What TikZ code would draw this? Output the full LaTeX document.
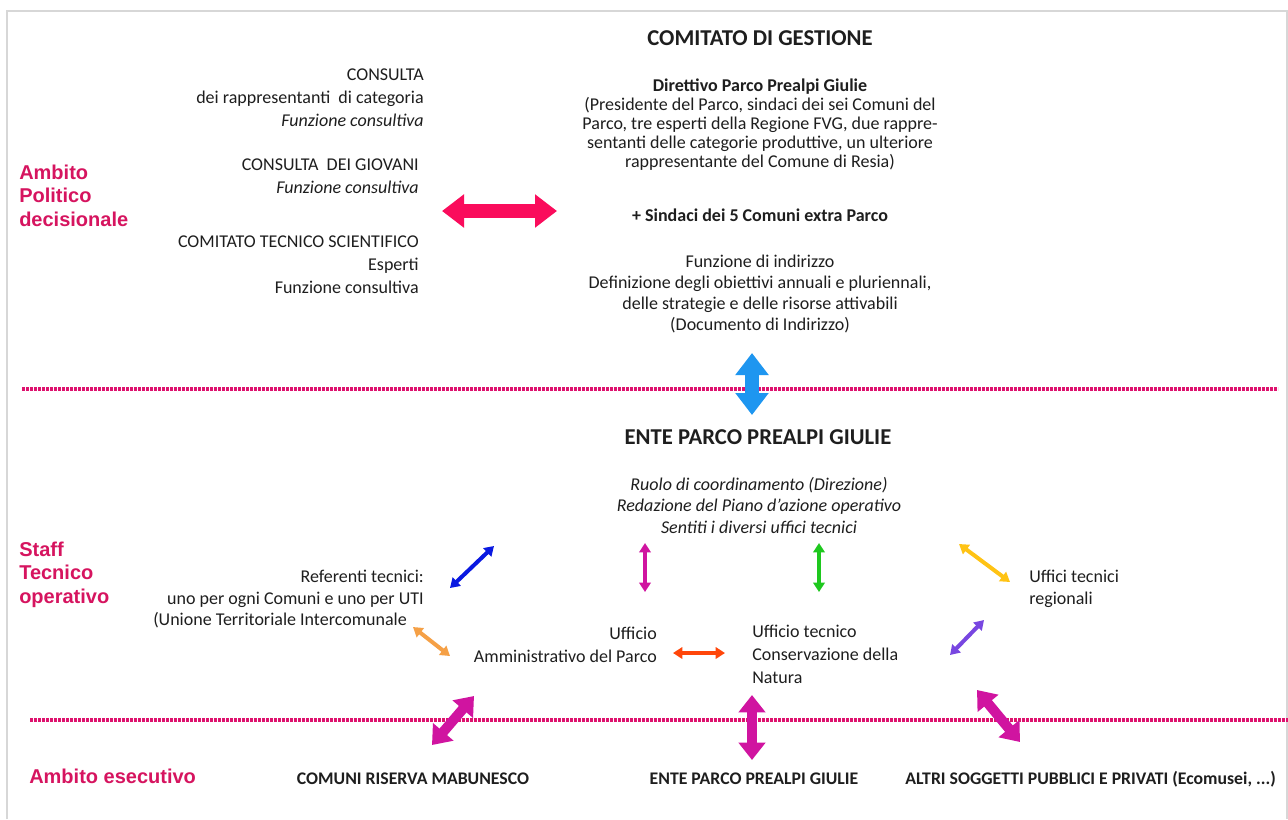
\documentclass[tikz,border=0pt]{standalone}
\usepackage{fontspec}
\setmainfont{Carlito}
\newfontfamily\labfont{Liberation Sans}
\usetikzlibrary{arrows.meta}
\definecolor{dotpink}{RGB}{222,18,110}
\definecolor{bigpink}{RGB}{250,12,92}
\definecolor{labpink}{RGB}{214,20,95}
\definecolor{magarrow}{RGB}{208,20,160}
\definecolor{skyblue}{RGB}{30,150,240}
\definecolor{deepblue}{RGB}{10,25,225}
\definecolor{greenarr}{RGB}{30,200,30}
\definecolor{yellowarr}{RGB}{255,195,20}
\definecolor{orangearr}{RGB}{245,160,70}
\definecolor{redarr}{RGB}{255,70,10}
\definecolor{purplearr}{RGB}{120,70,225}
\definecolor{txt}{RGB}{30,30,30}
\definecolor{framegray}{RGB}{215,215,215}
\begin{document}
\begin{tikzpicture}[x=0.75pt,y=-0.75pt,
  body/.style={font=\fontsize{13.5}{14.25}\selectfont, text=txt, inner sep=0pt, anchor=base},
  ttl/.style={font=\fontsize{17}{19}\selectfont\bfseries, text=txt, inner sep=0pt, anchor=base},
  btm/.style={font=\fontsize{13.3}{15}\selectfont\bfseries, text=txt, inner sep=0pt, anchor=base},
  lab/.style={font=\labfont\bfseries\fontsize{15}{17.6}\selectfont, text=labpink, inner sep=0pt, anchor=base west, align=left},
  sep/.style={dotpink, line width=3pt, dash pattern=on 2.2pt off 0.8pt},
  bigarrow/.style={line width=10.5pt, {Triangle[width=24pt,length=16.5pt]}-{Triangle[width=24pt,length=16.5pt]}},
  thickarrow/.style={line width=7.5pt, {Triangle[width=19.5pt,length=13pt]}-{Triangle[width=19.5pt,length=13pt]}},
  thinarrow/.style={line width=3pt, {Triangle[width=8.5pt,length=7pt]}-{Triangle[width=8.5pt,length=7pt]}}
]
\useasboundingbox (0,0) rectangle (1288,819);
\fill[white] (0,0) rectangle (1288,819);
\draw[framegray, line width=1.5pt] (7,819) -- (7,11) -- (1287,11) -- (1287,819);

% separators
\coordinate (s1a) at (22,389); \coordinate (s1b) at (1278,389);
\coordinate (s2a) at (30,720); \coordinate (s2b) at (1288,720);
\draw[sep] (s1a) -- (s1b);
\draw[sep] (s2a) -- (s2b);

% side labels (base = last line)
\node[lab] (politico) at (19,226) {Ambito\\Politico\\decisionale};
\node[lab] (staff) at (19,603) {Staff\\Tecnico\\operativo};
\node[lab] (esecutivo) at (29,783) {Ambito esecutivo};

% top-left block
\node[body, align=right, anchor=base east, font=\fontsize{13.5}{16.9}\selectfont] (consulta) at (424,126)
  {CONSULTA\\dei rappresentanti\ \ di categoria\\\textit{Funzione consultiva}};
\node[body, align=right, anchor=base east, font=\fontsize{13.5}{16.9}\selectfont] (giovani) at (419,193)
  {CONSULTA\ \ DEI GIOVANI\\\textit{Funzione consultiva}};
\node[body, align=right, anchor=base east, font=\fontsize{13.5}{16.9}\selectfont] (cts) at (419,293)
  {COMITATO TECNICO SCIENTIFICO\\Esperti\\Funzione consultiva};

% comitato di gestione
\node[ttl] (comg) at (760,45) {COMITATO DI GESTIONE};
\node[body, font=\fontsize{13.5}{14.25}\selectfont\bfseries] (direttivo) at (760,91) {Direttivo Parco Prealpi Giulie};
\node[body, align=center] (presid) at (760,167)
  {(Presidente del Parco, sindaci dei sei Comuni del\\Parco, tre esperti della Regione FVG, due rappre-\\sentanti delle categorie produttive, un ulteriore\\rappresentante del Comune di Resia)};
\node[body, font=\fontsize{13.5}{14.25}\selectfont\bfseries] (sindaci) at (760,221) {+ Sindaci dei 5 Comuni extra Parco};
\node[body, align=center, font=\fontsize{13.5}{15.75}\selectfont] (funz) at (760,330)
  {Funzione di indirizzo\\Definizione degli obiettivi annuali e pluriennali,\\delle strategie e delle risorse attivabili\\(Documento di Indirizzo)};

% ente parco
\node[ttl] (ente) at (758,444) {ENTE PARCO PREALPI GIULIE};
\node[body, align=center, font=\fontsize{13.5}{16.1}\selectfont\itshape] (ruolo) at (759,533)
  {Ruolo di coordinamento (Direzione)\\Redazione del Piano d’azione operativo\\Sentiti i diversi uffici tecnici};
\node[body, align=right, anchor=base east, font=\fontsize{13.5}{16.5}\selectfont] (referenti) at (424,604)
  {Referenti tecnici:\\uno per ogni Comuni e uno per UTI};
\node[body, anchor=base west] (unione) at (153,625) {(Unione Territoriale Intercomunale};
\node[body, align=right, anchor=base east, font=\fontsize{13.5}{17.25}\selectfont] (uffamm) at (657,662)
  {Ufficio\\Amministrativo del Parco};
\node[body, align=left, anchor=base west, font=\fontsize{13.5}{16.9}\selectfont] (ufftec) at (752,683)
  {Ufficio tecnico\\Conservazione della\\Natura};
\node[body, align=left, anchor=base west, font=\fontsize{13.5}{16.5}\selectfont] (uffreg) at (1029,604)
  {Uffici tecnici\\regionali};

% bottom
\node[btm] (comuni) at (413,784) {COMUNI RISERVA MABUNESCO};
\node[btm] (ente2) at (754,784) {ENTE PARCO PREALPI GIULIE};
\node[btm, anchor=base west] (altri) at (905,784) {ALTRI SOGGETTI PUBBLICI E PRIVATI (Ecomusei, ...)};

% arrows
\coordinate (a1l) at (442,211); \coordinate (a1r) at (557,211);
\draw[bigarrow, bigpink] (a1l) -- (a1r);
\coordinate (a2t) at (752,353); \coordinate (a2b) at (752,415);
\draw[bigarrow, skyblue] (a2t) -- (a2b);

\coordinate (b1a) at (450,588); \coordinate (b1b) at (494,546);
\draw[thinarrow, deepblue] (b1a) -- (b1b);
\coordinate (b2a) at (645,543); \coordinate (b2b) at (645,592);
\draw[thinarrow, magarrow] (b2a) -- (b2b);
\coordinate (b3a) at (819,543); \coordinate (b3b) at (819,592);
\draw[thinarrow, greenarr] (b3a) -- (b3b);
\coordinate (b4a) at (959,544); \coordinate (b4b) at (1010,582);
\draw[thinarrow, yellowarr] (b4a) -- (b4b);
\coordinate (b5a) at (413,627); \coordinate (b5b) at (450,656);
\draw[thinarrow, orangearr] (b5a) -- (b5b);
\coordinate (b6a) at (673,653); \coordinate (b6b) at (725,653);
\draw[thinarrow, redarr] (b6a) -- (b6b);
\coordinate (b7a) at (950,655); \coordinate (b7b) at (984,620);
\draw[thinarrow, purplearr] (b7a) -- (b7b);

\coordinate (c1a) at (432,745); \coordinate (c1b) at (474,696);
\draw[thickarrow, magarrow] (c1a) -- (c1b);
\coordinate (c2a) at (752,695); \coordinate (c2b) at (752,760);
\draw[thickarrow, magarrow] (c2a) -- (c2b);
\coordinate (c3a) at (977,690); \coordinate (c3b) at (1020,742);
\draw[thickarrow, magarrow] (c3a) -- (c3b);
\end{tikzpicture}
\end{document}
